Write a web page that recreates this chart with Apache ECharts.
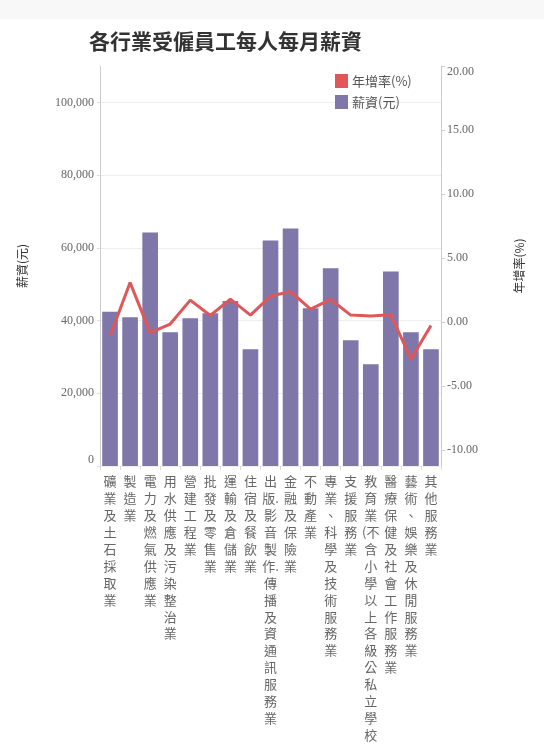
<!DOCTYPE html>
<html>
  <head>
    <meta charset="utf-8">
    <title>各行業受僱員工每人每月薪資</title>
    <script src="https://cdn.jsdelivr.net/npm/echarts@6/dist/echarts.min.js" charset="utf-8"></script>
    <style media="screen">
      body{
        margin: 0;
        background: #fff;
      }
      #main{
        width: 544px;
        height: 748px;
      }
    </style>
  </head>
  <body>
    <div id="main"></div>
    <script type="text/javascript">
      // 行業別
      var categories = [
        '礦業及土石採取業', '製造業', '電力及燃氣供應業', '用水供應及污染整治業',
        '營建工程業', '批發及零售業', '運輸及倉儲業', '住宿及餐飲業',
        '出版.影音製作.傳播及資通訊服務業', '金融及保險業', '不動產業',
        '專業、科學及技術服務業', '支援服務業', '教育業(不含小學以上各級公私立學校',
        '醫療保健及社會工作服務業', '藝術、娛樂及休閒服務業', '其他服務業'
      ];
      // 薪資(元)
      var wages = [42400, 40900, 64200, 36800, 40600, 42000, 45400, 32100, 62000,
                   65300, 43400, 54400, 34600, 28000, 53500, 36800, 32100];
      // 年增率(%)
      var growth = [-1.09, 3.08, -0.83, -0.16, 1.71, 0.51, 1.79, 0.54, 2.02,
                    2.38, 1.01, 1.76, 0.54, 0.47, 0.57, -2.9, -0.27];

      // 直排標籤：一字一行，"(" 跟下一字，"." 跟上一字
      function verticalLabel(s){
        var lines = [];
        for (var i = 0; i < s.length; i++){
          var c = s.charAt(i);
          var last = lines.length ? lines[lines.length - 1] : null;
          if (c === '.' && last !== null){
            lines[lines.length - 1] = last + c;
          } else if (last !== null && last.charAt(last.length - 1) === '('){
            lines[lines.length - 1] = last + c;
          } else {
            lines.push(c);
          }
        }
        return lines.join('\n');
      }

      var myChart = echarts.init(document.getElementById('main'));
      var option = {
        animation: false,
        graphic: [{
          type: 'rect',
          shape: {x: 0, y: 0, width: 544, height: 19},
          style: {fill: '#f8f8f8'},
          z: -1
        }],
        title: {
          text: '各行業受僱員工每人每月薪資',
          left: 89,
          top: 31,
          padding: 0,
          textStyle: {
            fontFamily: 'Noto Sans CJK TC',
            fontSize: 21,
            fontWeight: 'bold',
            color: '#333'
          }
        },
        legend: {
          orient: 'vertical',
          left: 335,
          top: 74,
          padding: 0,
          itemWidth: 13,
          itemHeight: 14,
          itemGap: 7,
          icon: 'rect',
          data: ['年增率(%)', '薪資(元)'],
          textStyle: {
            fontFamily: 'Noto Sans CJK TC',
            fontSize: 13,
            color: '#555',
            padding: [0, 0, 0, -1]
          }
        },
        grid: {
          left: 100,
          right: 103,
          top: 66,
          bottom: 282,
          outerBoundsMode: 'none'
        },
        xAxis: {
          type: 'category',
          data: categories,
          axisLine: {show: false},
          axisTick: {
            show: true,
            length: 4,
            lineStyle: {color: '#ddd'}
          },
          axisLabel: {
            interval: 0,
            margin: 7,
            fontFamily: 'Noto Sans CJK TC',
            fontSize: 13,
            lineHeight: 16.9,
            color: '#666',
            verticalAlign: 'top',
            formatter: verticalLabel
          }
        },
        yAxis: [
          {
            type: 'value',
            min: 0,
            max: 110000,
            name: '薪資(元)',
            nameLocation: 'middle',
            nameRotate: 90,
            nameGap: 72,
            nameTextStyle: {
              fontFamily: 'Noto Sans CJK TC',
              fontSize: 12,
              color: '#333'
            },
            axisLine: {show: true, lineStyle: {color: '#ccc'}},
            axisTick: {show: true, length: 3, lineStyle: {color: '#ddd'}},
            splitLine: {show: true, showMaxLine: false, lineStyle: {color: '#eee'}},
            axisLabel: {
              margin: 6,
              showMaxLabel: false,
              verticalAlignMinLabel: 'bottom',
              fontFamily: 'Liberation Serif',
              fontSize: 12,
              color: '#666',
              formatter: function (v) {
                return String(v).replace(/\d{1,3}(?=(\d{3})+$)/g, '$&,');
              }
            }
          },
          {
            type: 'value',
            min: -11.25,
            max: 20,
            name: '年增率(%)',
            nameLocation: 'middle',
            nameRotate: 90,
            nameGap: 72,
            nameTextStyle: {
              fontFamily: 'Noto Sans CJK TC',
              fontSize: 12,
              color: '#333'
            },
            axisLine: {show: true, lineStyle: {color: '#ccc'}},
            axisTick: {show: true, length: 4, lineStyle: {color: '#ccc'}},
            splitLine: {show: false},
            axisLabel: {
              margin: 6,
              showMinLabel: false,
              verticalAlignMaxLabel: 'top',
              fontFamily: 'Liberation Serif',
              fontSize: 12,
              color: '#666',
              formatter: function (v) {
                return v.toFixed(2);
              }
            }
          }
        ],
        series: [
          {
            name: '薪資(元)',
            type: 'bar',
            yAxisIndex: 0,
            barCategoryGap: '22%',
            itemStyle: {color: '#7f76a9'},
            data: wages
          },
          {
            name: '年增率(%)',
            type: 'line',
            yAxisIndex: 1,
            symbol: 'none',
            z: 3,
            itemStyle: {color: '#e15759'},
            lineStyle: {color: '#e15759', width: 3},
            data: growth
          }
        ]
      };
      myChart.setOption(option);
    </script>
  </body>
</html>
